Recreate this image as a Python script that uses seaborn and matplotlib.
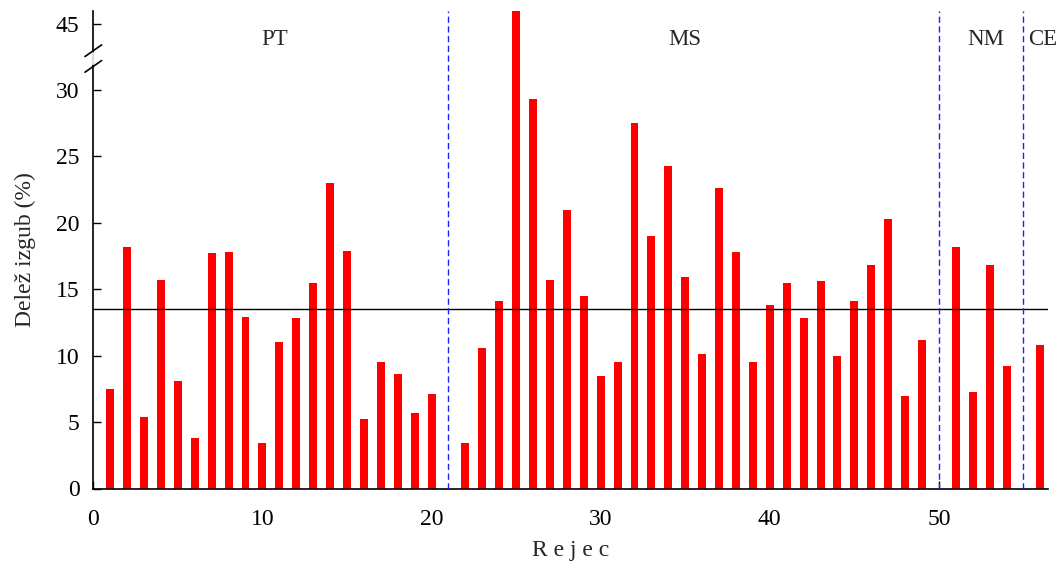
import numpy as np
import pandas as pd
import matplotlib
matplotlib.use("Agg")
import matplotlib.pyplot as plt
import seaborn as sns

# ---- data ----
positions = [1, 2, 3, 4, 5, 6, 7, 8, 9, 10, 11, 12, 13, 14, 15, 16, 17, 18, 19, 20,
             22, 23, 24, 25, 26, 27, 28, 29, 30, 31, 32, 33, 34, 35, 36, 37, 38, 39,
             40, 41, 42, 43, 44, 45, 46, 47, 48, 49,
             51, 52, 53, 54,
             56]
losses = [7.5, 18.2, 5.4, 15.7, 8.1, 3.8, 17.7, 17.8, 12.9, 3.4, 11.0, 12.8, 15.5, 23.0, 17.9,
          5.2, 9.5, 8.6, 5.7, 7.1,
          3.4, 10.6, 14.1, 47.0, 29.3, 15.7, 21.0, 14.5, 8.5, 9.5, 27.5, 19.0, 24.3, 15.9,
          10.1, 22.6, 17.8, 9.5, 13.8, 15.5, 12.8, 15.6, 10.0, 14.1, 16.8, 20.3, 7.0, 11.2,
          18.2, 7.3, 16.8, 9.2,
          10.8]
mean_loss = 13.52
group_bounds = [21, 50, 55]
group_names = ["PT", "MS", "NM", "CE"]
group_label_x = [10.7, 35.0, 52.8, 56.15]
yticks = [0, 5, 10, 15, 20, 25, 30, 45]
xticks = [0, 10, 20, 30, 40, 50]

df = pd.DataFrame({"rejec": positions, "delez": losses})

sns.set_theme(style="white")
plt.rcParams["font.family"] = ["Liberation Serif", "DejaVu Serif"]

fig = plt.figure(figsize=(10.63, 5.64), dpi=100)
ax = fig.add_axes([93.3 / 1063, 1 - 488.5 / 564, (1048 - 93.3) / 1063, (488.5 - 11) / 564])

sns.barplot(data=df, x="rejec", y="delez", native_scale=True, width=0.47,
            color="#ff0000", saturation=1, edgecolor="none", ax=ax, zorder=2)

# broken y-scale: values above the break are shifted down by 10
CUT_LO, CUT_HI = 33.0, 43.0
def fwd(y):
    y = np.asarray(y, dtype=float)
    return np.where(y <= CUT_LO, y, np.where(y >= CUT_HI, y - 10.0, CUT_LO))
def inv(d):
    d = np.asarray(d, dtype=float)
    return np.where(d <= CUT_LO, d, d + 10.0)
ax.set_yscale("function", functions=(fwd, inv))
ax.set_ylim(0, 45.95)
ax.set_xlim(0, 56.45)

ax.axhline(mean_loss, color="black", lw=1.0, zorder=3)
for b in group_bounds:
    ax.axvline(b, color="#2020ff", lw=1.0, linestyle=(0, (4.5, 2.5)), zorder=3)

for name, gx in zip(group_names, group_label_x):
    ax.text(gx, 0.929, name, transform=ax.get_xaxis_transform(), ha="center",
            va="baseline", fontsize=16.5)

ax.set_yticks(yticks)
ax.set_yticklabels([str(t) for t in yticks])
ax.set_xticks(xticks)
ax.set_xticklabels([str(t) for t in xticks])
ax.tick_params(axis="both", direction="in", length=6, width=1.0, labelsize=17,
               colors="black", left=True, bottom=True)
ax.tick_params(axis="y", pad=10)
ax.tick_params(axis="x", pad=15)

for s in ["top", "right"]:
    ax.spines[s].set_visible(False)
for s in ["left", "bottom"]:
    ax.spines[s].set_color("black")
    ax.spines[s].set_linewidth(1.2)

ax.set_xlabel("R e j e c", fontsize=17, labelpad=7)
ax.set_ylabel("Delež izgub (%)", fontsize=17, labelpad=14)

# break marks on the y axis
dx, dy = 0.0087, 0.0122
for yc in [32.96 / 35.95, 31.78 / 35.95]:
    ax.plot([-dx, dx], [yc - dy, yc + dy], transform=ax.transAxes, color="black",
            lw=1.2, clip_on=False, zorder=5)
ax.plot([0, 0], [31.95 / 35.95, 32.8 / 35.95], transform=ax.transAxes, color="#dddddd",
        lw=1.6, clip_on=False, zorder=4)

fig.savefig("out.png", dpi=100)
